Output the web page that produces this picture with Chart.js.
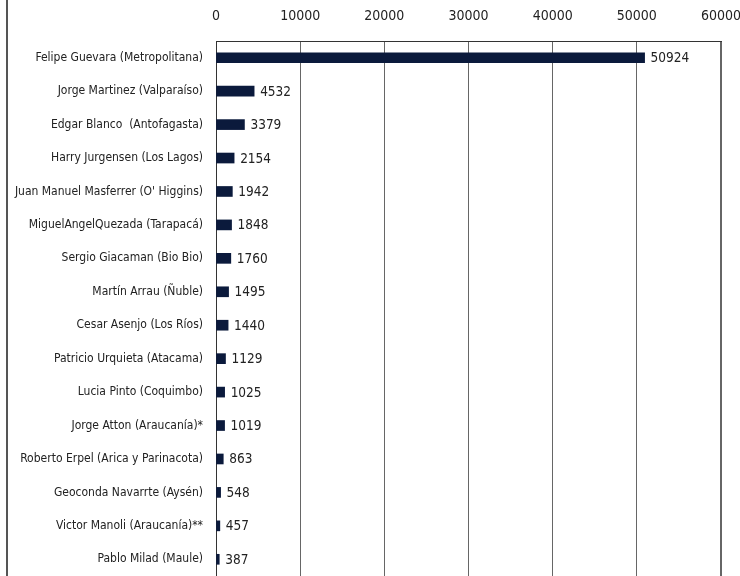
<!DOCTYPE html>
<html lang="es">
<head>
  <meta charset="UTF-8" />
  <title>Votos por candidato</title>
  <script src="https://cdn.jsdelivr.net/npm/chart.js"></script>
  <style>
    html, body { margin: 0; padding: 0; background: #fff; }
    #wrap { position: relative; width: 740px; height: 576px; }
    #sideLine { position: absolute; left: 6px; top: 0; width: 2px; height: 576px; background: #555; }
  </style>
</head>
<body>
  <div id="wrap">
    <div id="sideLine"></div>
    <canvas id="chart" width="740" height="576"></canvas>
  </div>

  <script>
    const candidates = [
      "Felipe Guevara (Metropolitana)",
      "Jorge Martinez (Valparaíso)",
      "Edgar Blanco  (Antofagasta)",
      "Harry Jurgensen (Los Lagos)",
      "Juan Manuel Masferrer (O' Higgins)",
      "MiguelAngelQuezada (Tarapacá)",
      "Sergio Giacaman (Bio Bio)",
      "Martín Arrau (Ñuble)",
      "Cesar Asenjo (Los Ríos)",
      "Patricio Urquieta (Atacama)",
      "Lucia Pinto (Coquimbo)",
      "Jorge Atton (Araucanía)*",
      "Roberto Erpel (Arica y Parinacota)",
      "Geoconda Navarrte (Aysén)",
      "Victor Manoli (Araucanía)**",
      "Pablo Milad (Maule)"
    ];
    const votes = [50924, 4532, 3379, 2154, 1942, 1848, 1760, 1495, 1440, 1129, 1025, 1019, 863, 548, 457, 387];
    const axisMax = 60000;
    const axisStep = 10000;

    const FONT = '"Liberation Sans Narrow", "DejaVu Sans Condensed", "Roboto Condensed", "Noto Sans", sans-serif';
    const TEXT = '#222';

    // value labels to the right of each bar
    const valueLabels = {
      id: 'valueLabels',
      afterDatasetsDraw(chart) {
        const ctx = chart.ctx;
        const meta = chart.getDatasetMeta(0);
        ctx.save();
        ctx.font = '13.5px ' + FONT;
        ctx.fillStyle = TEXT;
        ctx.textAlign = 'left';
        ctx.textBaseline = 'middle';
        meta.data.forEach((bar, i) => {
          ctx.fillText(String(votes[i]), bar.x + 6, bar.y + 1);
        });
        ctx.restore();
      }
    };

    new Chart(document.getElementById('chart'), {
      type: 'bar',
      data: {
        labels: candidates,
        datasets: [{
          data: votes,
          backgroundColor: '#0b1a3c',
          barThickness: 10
        }]
      },
      options: {
        indexAxis: 'y',
        responsive: false,
        animation: false,
        layout: { padding: { left: 0, right: 19, top: 0, bottom: 0 } },
        plugins: {
          legend: { display: false },
          tooltip: { enabled: false }
        },
        scales: {
          x: {
            position: 'top',
            min: 0,
            max: axisMax,
            afterFit(scale) {
              scale.height = 41;
              scale.paddingLeft = 0;
              scale.paddingRight = 0;
            },
            ticks: {
              stepSize: axisStep,
              padding: 16,
              color: TEXT,
              font: { family: FONT, size: 14 },
              maxRotation: 0,
              callback: (v) => String(v)
            },
            grid: {
              drawTicks: false,
              color: '#666',
              lineWidth: (c) => (c.index === 6 ? 2 : 1)
            },
            border: { display: true, color: '#333', width: 1 }
          },
          y: {
            afterFit(scale) {
              scale.width = 216;
              scale.paddingTop = 0;
              scale.paddingBottom = 0;
            },
            ticks: {
              padding: 13,
              color: TEXT,
              font: { family: FONT, size: 12 },
              autoSkip: false
            },
            grid: { display: false, drawTicks: false },
            border: { display: true, color: '#333', width: 1 }
          }
        }
      },
      plugins: [valueLabels]
    });
  </script>
</body>
</html>
